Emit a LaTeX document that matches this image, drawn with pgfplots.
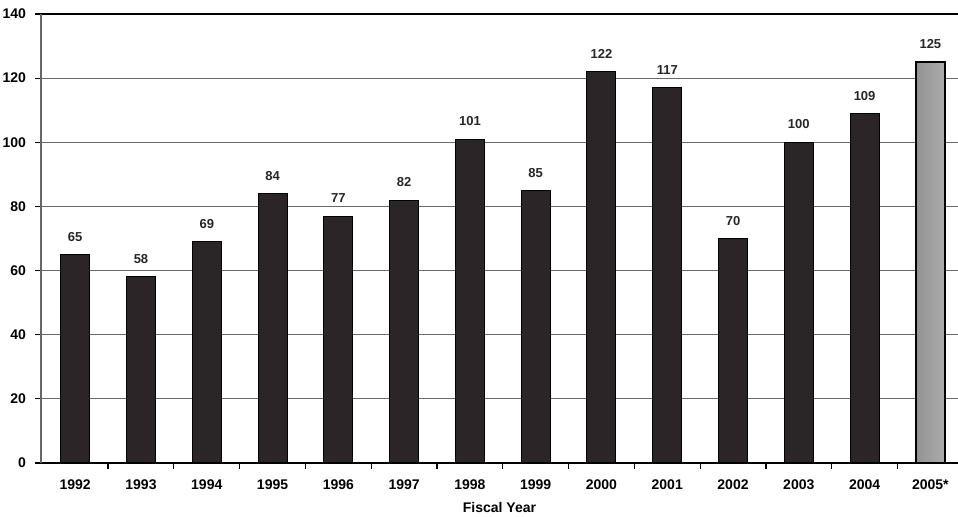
\documentclass[border=0pt]{standalone}
\usepackage{pgfplots}
\pgfplotsset{compat=1.18}
\usepackage{fontspec}
\setmainfont{Liberation Sans}
\definecolor{barDark}{HTML}{2B2527}
\definecolor{gridC}{HTML}{6A6A6A}
\begin{document}
\begin{tikzpicture}
\begin{axis}[
  scale only axis,
  width=458.5pt, height=224.5pt,
  xmin=-0.52, xmax=13.42,
  ymin=0, ymax=140,
  ytick={0,20,...,140},
  xtick={0,...,13},
  xticklabels={1992,1993,1994,1995,1996,1997,1998,1999,2000,2001,2002,2003,2004,2005*},
  minor xtick={0.5,1.5,...,12.5},
  major x tick style={draw=none},
  minor x tick style={black, line width=0.6pt},
  minor tick length=3pt,
  xtick pos=lower,
  ytick pos=left,
  axis x line*=box,
  axis y line*=left,
  x axis line style={black, line width=1.2pt, -},
  y axis line style={gray!80!black, line width=0.8pt, -},
  y tick style={black, line width=0.6pt},
  tick align=outside,
  major tick length=3pt,
  ymajorgrids,
  major grid style={gridC, line width=0.6pt},
  /pgf/number format/assume math mode=true,
  tick label style={font=\bfseries\fontsize{7}{8}\selectfont},
  xticklabel style={yshift=-2pt},
  yticklabel style={xshift=-1pt},
  xlabel={\textbf{Fiscal Year}},
  xlabel style={font=\bfseries\fontsize{7}{8}\selectfont, yshift=0.5pt},
  nodes near coords,
  every node near coord/.append style={font=\bfseries\fontsize{6.5}{7}\selectfont, text=black!85, yshift=3pt},
]
\addplot[ybar, bar width=14.5pt, bar shift=0pt, fill=barDark, draw=black, line width=0.5pt]
  coordinates {(0,65) (1,58) (2,69) (3,84) (4,77) (5,82) (6,101) (7,85) (8,122) (9,117) (10,70) (11,100) (12,109)};
\addplot[ybar, bar width=14.5pt, bar shift=0pt, left color=gray!85, middle color=gray!35, right color=gray!65, draw=black, line width=0.8pt]
  coordinates {(13,125)};
\coordinate (TL) at (rel axis cs:0,1);
\coordinate (BR) at (rel axis cs:1,0);
\end{axis}
\pgfresetboundingbox
\useasboundingbox ([shift={(-20.5pt,7pt)}]TL) rectangle ([shift={(0pt,-27pt)}]BR);
\end{tikzpicture}
\end{document}
